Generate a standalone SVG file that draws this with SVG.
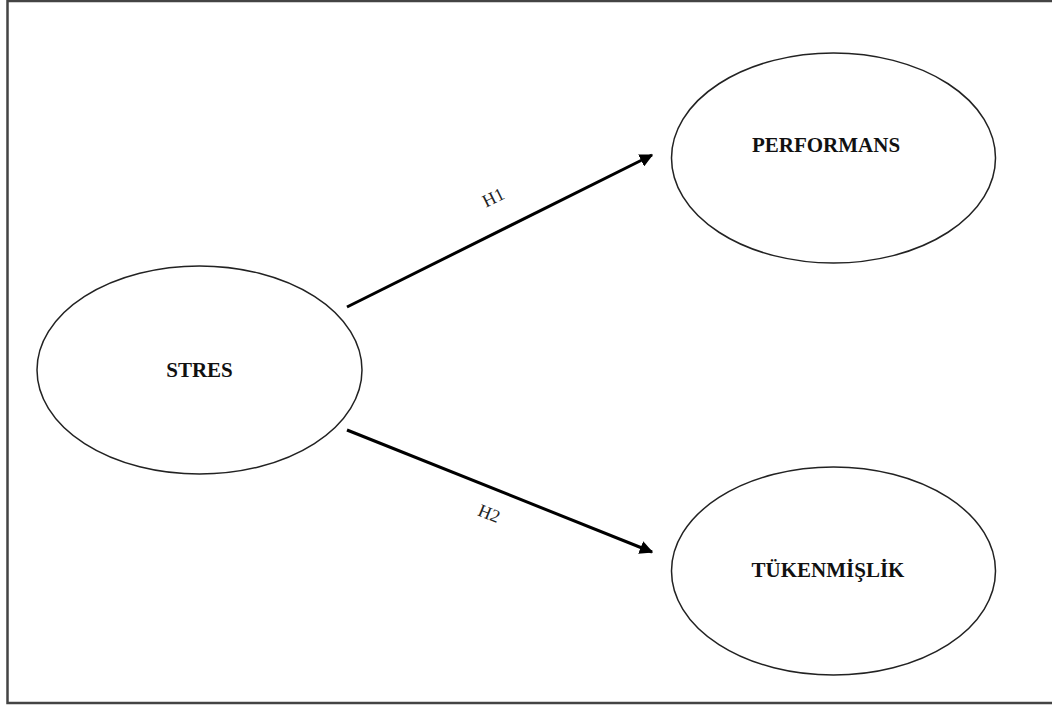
<svg xmlns="http://www.w3.org/2000/svg" width="1052" height="709" viewBox="0 0 1052 709">
<style>
.node ellipse{fill:#fff;stroke:#222;stroke-width:1.5}
.node text{font-family:"Liberation Serif","Times New Roman",serif;font-weight:bold;font-size:21px;fill:#111;text-anchor:middle}
.conn line{stroke:#000;stroke-width:3}
.lbl{font-family:"Liberation Serif","Times New Roman",serif;font-size:18px;fill:#222;text-anchor:middle}
</style>
<defs>
<marker id="ah" viewBox="0 0 10 10" refX="9" refY="5" markerWidth="4.5" markerHeight="4.5" orient="auto" markerUnits="strokeWidth">
<path d="M0,0 L10,5 L0,10 z" fill="#000"/>
</marker>
</defs>
<rect x="7.5" y="1" width="1060" height="702" fill="#fff" stroke="#444" stroke-width="2.5"/>
<g id="stres" class="node">
<ellipse cx="199.5" cy="370" rx="162.5" ry="104"/>
<text x="199.5" y="377">STRES</text>
</g>
<g id="performans" class="node">
<ellipse cx="833.5" cy="158" rx="162" ry="105"/>
<text x="826" y="152">PERFORMANS</text>
</g>
<g id="tukenmislik" class="node">
<ellipse cx="833.5" cy="571" rx="162" ry="104"/>
<text x="828" y="577">TÜKENMİŞLİK</text>
</g>
<g id="connectors" class="conn">
<line x1="347" y1="307" x2="652" y2="155" marker-end="url(#ah)"/>
<line x1="347" y1="430" x2="652" y2="552" marker-end="url(#ah)"/>
<text class="lbl" transform="translate(496,203) rotate(-26)">H1</text>
<text class="lbl" transform="translate(487,519) rotate(22)">H2</text>
</g>
</svg>
